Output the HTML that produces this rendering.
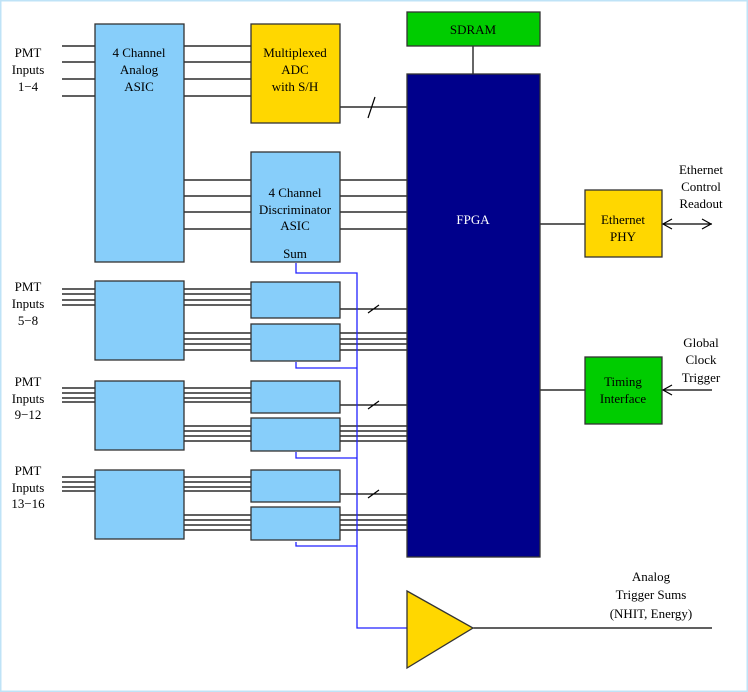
<!DOCTYPE html>
<html><head><meta charset="utf-8"><style>
html,body{margin:0;padding:0;background:#fff}
svg{display:block}
text{font-family:"Liberation Serif",serif;font-size:13px;fill:#000;text-anchor:middle}
</style></head><body>
<svg width="748" height="692" viewBox="0 0 748 692" xmlns="http://www.w3.org/2000/svg">
<rect x="0.5" y="0.5" width="747" height="691" fill="#fff" stroke="#bfe3f7" stroke-width="2"/>
<g stroke="#000" stroke-width="1.2" fill="none">
<!-- group 1 -->
<path d="M62 46H95M62 62H95M62 79H95M62 96H95"/>
<path d="M184 46H251M184 62H251M184 79H251M184 96H251"/>
<path d="M340 107H407M368 118L375 97"/>
<path d="M184 180H407M184 196H407M184 212H407M184 229H407"/>
<path d="M473 46V74"/>
<!-- group 2 -->
<path d="M62 289H95M62 294H95M62 300H95M62 305H95M184 289H251M184 294H251M184 300H251M184 305H251"/>
<path d="M184 333H407M184 339H407M184 344H407M184 350H407"/>
<path d="M340 309H407M368 313L379 305"/>
<!-- group 3 -->
<path d="M62 388H95M62 393H95M62 398H95M62 402H95M184 388H251M184 393H251M184 398H251M184 402H251"/>
<path d="M184 426H407M184 431H407M184 436H407M184 441H407"/>
<path d="M340 405H407M368 409L379 401"/>
<!-- group 4 -->
<path d="M62 477H95M62 482H95M62 487H95M62 491H95M184 477H251M184 482H251M184 487H251M184 491H251"/>
<path d="M184 515H407M184 520H407M184 525H407M184 530H407"/>
<path d="M340 494H407M368 498L379 490"/>
<!-- right -->
<path d="M540 224H585M662 224H712M540 390H585M662 390H712M473 628H712" />
<path d="M672 219L663 224L672 229M702 219L711 224L702 229M672 385L663 390L672 395"/>
</g>
<g stroke="#2222ff" stroke-width="1.3" fill="none">
<path d="M296 263V273H357V628H407"/>
<path d="M296 362V368H357M296 452V458H357M296 542V546H357"/>
</g>
<g stroke="#333" stroke-width="1.3">
<rect x="95" y="24" width="89" height="238" fill="#87cefa"/>
<rect x="251" y="24" width="89" height="99" fill="#ffd700"/>
<rect x="251" y="152" width="89" height="110" fill="#87cefa"/>
<rect x="407" y="12" width="133" height="34" fill="#00cc00"/>
<rect x="407" y="74" width="133" height="483" fill="#00008b"/>
<rect x="585" y="190" width="77" height="67" fill="#ffd700"/>
<rect x="585" y="357" width="77" height="67" fill="#00cc00"/>
<rect x="95" y="281" width="89" height="79" fill="#87cefa"/>
<rect x="251" y="282" width="89" height="36" fill="#87cefa"/>
<rect x="251" y="324" width="89" height="37" fill="#87cefa"/>
<rect x="95" y="381" width="89" height="69" fill="#87cefa"/>
<rect x="251" y="381" width="89" height="32" fill="#87cefa"/>
<rect x="251" y="418" width="89" height="33" fill="#87cefa"/>
<rect x="95" y="470" width="89" height="69" fill="#87cefa"/>
<rect x="251" y="470" width="89" height="32" fill="#87cefa"/>
<rect x="251" y="507" width="89" height="33" fill="#87cefa"/>
<polygon points="407,591 473,628 407,668" fill="#ffd700"/>
</g>
<text x="28" y="57">PMT</text><text x="28" y="74">Inputs</text><text x="28" y="91">1−4</text>
<text x="139" y="57">4 Channel</text><text x="139" y="74">Analog</text><text x="139" y="91">ASIC</text>
<text x="295" y="57">Multiplexed</text><text x="295" y="74">ADC</text><text x="295" y="91">with S/H</text>
<text x="295" y="197">4 Channel</text><text x="295" y="214">Discriminator</text><text x="295" y="230">ASIC</text>
<text x="295" y="258">Sum</text>
<text x="473" y="34">SDRAM</text>
<text x="473" y="224" style="fill:#fff">FPGA</text>
<text x="623" y="224">Ethernet</text><text x="623" y="241">PHY</text>
<text x="623" y="386">Timing</text><text x="623" y="403">Interface</text>
<text x="701" y="174">Ethernet</text><text x="701" y="191">Control</text><text x="701" y="208">Readout</text>
<text x="701" y="347">Global</text><text x="701" y="364">Clock</text><text x="701" y="382">Trigger</text>
<text x="28" y="291">PMT</text><text x="28" y="308">Inputs</text><text x="28" y="325">5−8</text>
<text x="28" y="386">PMT</text><text x="28" y="403">Inputs</text><text x="28" y="419">9−12</text>
<text x="28" y="475">PMT</text><text x="28" y="492">Inputs</text><text x="28" y="508">13−16</text>
<text x="651" y="581">Analog</text><text x="651" y="599">Trigger Sums</text><text x="651" y="618">(NHIT, Energy)</text>
</svg>
</body></html>
